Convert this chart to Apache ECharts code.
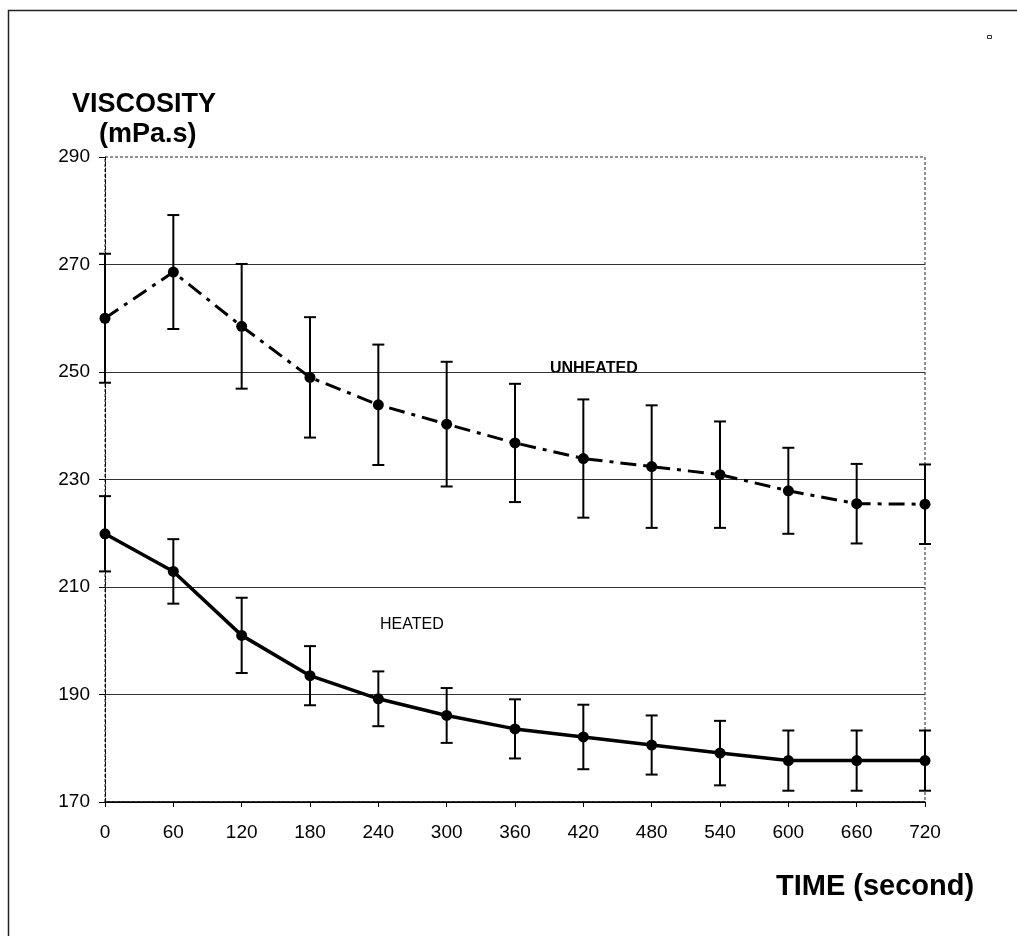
<!DOCTYPE html>
<html>
<head>
<meta charset="utf-8">
<script src="https://cdn.jsdelivr.net/npm/echarts@6/dist/echarts.min.js"></script>
<style>
  html, body { margin: 0; padding: 0; background: #fff; }
  #chart { width: 1017px; height: 936px; }
</style>
</head>
<body>
<div id="chart"></div>
<script>
// Time points (seconds)
const times = [0, 60, 120, 180, 240, 300, 360, 420, 480, 540, 600, 660, 720];

// Unheated sample: mean viscosity and +/- error
const unheatedMean = [260.0, 268.6, 258.5, 249.0, 243.9, 240.3, 236.8, 233.9, 232.4, 230.9, 227.9, 225.5, 225.4];
const unheatedErr  = [12.0, 10.6, 11.6, 11.2, 11.2, 11.6, 11.0, 11.0, 11.4, 9.9, 8.0, 7.4, 7.4];

// Heated sample: mean viscosity and +/- error
const heatedMean = [219.9, 212.9, 201.0, 193.5, 189.2, 186.1, 183.6, 182.1, 180.6, 179.1, 177.7, 177.7, 177.7];
const heatedErr  = [7.0, 6.0, 7.0, 5.5, 5.1, 5.1, 5.5, 6.0, 5.5, 6.0, 5.6, 5.6, 5.6];

// Axis settings
const yMin = 170, yMax = 290, yStep = 20;
const xMin = 0, xMax = 720, xStep = 60;

const pairs = (xs, ys) => xs.map((x, i) => [x, ys[i]]);
const errRows = (xs, m, e) => xs.map((x, i) => [x, m[i] - e[i], m[i] + e[i]]);

// Vertical error bar with short caps at both ends
function errorBar(params, api) {
  const x = api.value(0);
  const lo = api.coord([x, api.value(1)]);
  const hi = api.coord([x, api.value(2)]);
  const cap = 6;
  const style = { stroke: '#000', lineWidth: 2 };
  return {
    type: 'group',
    children: [
      { type: 'line', shape: { x1: lo[0], y1: lo[1], x2: hi[0], y2: hi[1] }, style },
      { type: 'line', shape: { x1: lo[0] - cap, y1: lo[1], x2: lo[0] + cap, y2: lo[1] }, style },
      { type: 'line', shape: { x1: hi[0] - cap, y1: hi[1], x2: hi[0] + cap, y2: hi[1] }, style }
    ]
  };
}

const chart = echarts.init(document.getElementById('chart'), null, { renderer: 'canvas' });

const font = '"Liberation Sans", Arial, Helvetica, sans-serif';

chart.setOption({
  backgroundColor: '#fff',
  animation: false,
  textStyle: { fontFamily: font },
  grid: {
    left: 105, right: 92, top: 157, bottom: 134,
    show: true, borderColor: '#222', borderWidth: 1, borderType: [3, 2]
  },
  xAxis: {
    type: 'value', min: xMin, max: xMax, interval: xStep,
    axisLine: { show: true, onZero: false, lineStyle: { color: '#000', width: 1.5 } },
    axisTick: { show: true, length: 5, lineStyle: { color: '#000' } },
    axisLabel: { color: '#000', fontSize: 19, margin: 21, fontFamily: font },
    splitLine: { show: false }
  },
  yAxis: {
    type: 'value', min: yMin, max: yMax, interval: yStep,
    axisLine: { show: true, onZero: false, lineStyle: { color: '#000', width: 1, type: [4, 2] } },
    axisTick: { show: true, length: 6, lineStyle: { color: '#000' } },
    axisLabel: { color: '#000', fontSize: 19, margin: 15, fontFamily: font },
    splitLine: {
      show: true,
      lineStyle: { color: ['#000', '#333', '#333', '#333', '#333', '#333', 'rgba(0,0,0,0)'], width: 1 }
    }
  },
  graphic: [
    // outer frame (left and top edges)
    { type: 'rect', shape: { x: 8.5, y: 10.5, width: 1100, height: 1000 },
      style: { fill: 'none', stroke: '#222', lineWidth: 1.5 }, silent: true },
    { type: 'rect', shape: { x: 987.5, y: 35.5, width: 4, height: 3 },
      style: { fill: 'none', stroke: '#333', lineWidth: 1 }, silent: true },
    { type: 'text', left: 72, top: 91,
      style: { text: 'VISCOSITY', font: 'bold 27px ' + font, fill: '#000' } },
    { type: 'text', left: 99, top: 121,
      style: { text: '(mPa.s)', font: 'bold 27px ' + font, fill: '#000' } },
    { type: 'text', left: 776, top: 872,
      style: { text: 'TIME (second)', font: 'bold 29px ' + font, fill: '#000' } },
    { type: 'text', left: 550, top: 361,
      style: { text: 'UNHEATED', font: 'bold 16px ' + font, fill: '#000' } },
    { type: 'text', left: 380, top: 617,
      style: { text: 'HEATED', font: '16px ' + font, fill: '#000' } }
  ],
  series: [
    {
      name: 'UNHEATED error', type: 'custom', renderItem: errorBar,
      data: errRows(times, unheatedMean, unheatedErr), z: 2, silent: true
    },
    {
      name: 'HEATED error', type: 'custom', renderItem: errorBar,
      data: errRows(times, heatedMean, heatedErr), z: 2, silent: true
    },
    {
      name: 'UNHEATED', type: 'line', data: pairs(times, unheatedMean), z: 3,
      symbol: 'circle', symbolSize: 11,
      itemStyle: { color: '#000' },
      lineStyle: { color: '#000', width: 3, type: [16, 7, 4, 7] }
    },
    {
      name: 'HEATED', type: 'line', data: pairs(times, heatedMean), z: 3,
      symbol: 'circle', symbolSize: 11,
      itemStyle: { color: '#000' },
      lineStyle: { color: '#000', width: 3.5 }
    }
  ]
});
</script>
</body>
</html>
